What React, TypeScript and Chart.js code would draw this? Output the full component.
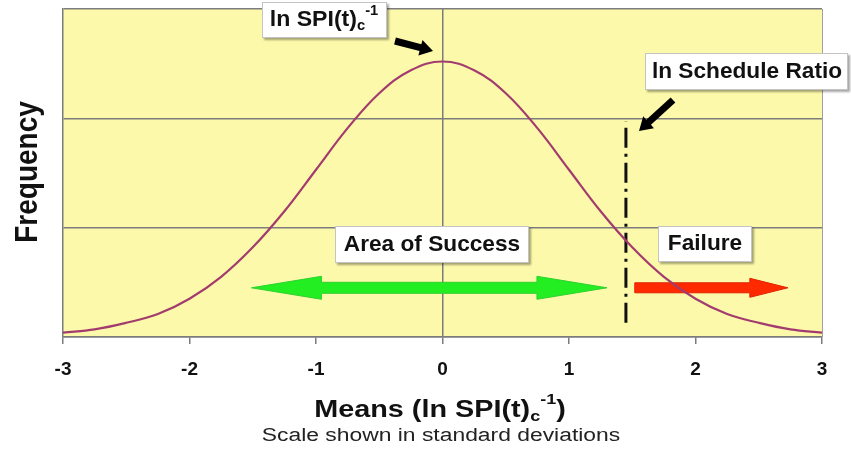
import React, { useEffect, useRef } from "react";
import { Chart, registerables } from "chart.js";

Chart.register(...registerables);

// x positions in standard deviations, and frequency
const xValues = [-3, -2.75, -2.5, -2.25, -2, -1.75, -1.5, -1.25, -1, -0.75, -0.5, -0.25, 0, 0.25, 0.5, 0.75, 1, 1.25, 1.5, 1.75, 2, 2.25, 2.5, 2.75, 3];
const frequency = [0.04, 0.07, 0.13, 0.21, 0.35, 0.55, 0.82, 1.15, 1.53, 1.91, 2.23, 2.44, 2.52, 2.44, 2.23, 1.91, 1.53, 1.15, 0.82, 0.55, 0.35, 0.21, 0.13, 0.07, 0.04];
const xTicks = [-3, -2, -1, 0, 1, 2, 3];
const scheduleRatioX = 1.45;
const scheduleRatioY = [0.13, 1.97];
const successRange = [-1.51, 1.3];
const failureRange = [1.52, 2.73];
const arrowLevel = 0.45;

const FONT = '"Liberation Sans", Arial, Helvetica, sans-serif';

type Part = { t: string; k: "n" | "sub" | "sup" };

function drawRich(ctx: CanvasRenderingContext2D, parts: Part[], cx: number, cy: number, size: number, sx: number, weight = "bold", color = "#111") {
  const segs = parts.map((p) => {
    const fs = p.k === "n" ? size : Math.round(size * 0.62);
    ctx.font = `${weight} ${fs}px ${FONT}`;
    return { ...p, fs, w: ctx.measureText(p.t).width };
  });
  const total = segs.reduce((a, s) => a + s.w * sx, 0);
  let x = cx - total / 2;
  ctx.fillStyle = color;
  ctx.textBaseline = "middle";
  ctx.textAlign = "left";
  for (const s of segs) {
    ctx.font = `${weight} ${s.fs}px ${FONT}`;
    const dy = s.k === "sub" ? size * 0.3 : s.k === "sup" ? -size * 0.42 : 0;
    ctx.save();
    ctx.translate(x, cy + dy);
    ctx.scale(sx, 1);
    ctx.fillText(s.t, 0, 0);
    ctx.restore();
    x += s.w * sx;
  }
}

function drawBox(ctx: CanvasRenderingContext2D, x1: number, y1: number, x2: number, y2: number) {
  ctx.save();
  ctx.shadowColor = "rgba(0,0,0,0.35)";
  ctx.shadowOffsetX = 1.5;
  ctx.shadowOffsetY = 1.5;
  ctx.shadowBlur = 2;
  ctx.fillStyle = "#ffffff";
  ctx.fillRect(x1, y1, x2 - x1, y2 - y1);
  ctx.restore();
  ctx.save();
  ctx.strokeStyle = "#c4c4c4";
  ctx.lineWidth = 1;
  ctx.strokeRect(x1 + 0.5, y1 + 0.5, x2 - x1 - 1, y2 - y1 - 1);
  ctx.restore();
}

function drawArrow(ctx: CanvasRenderingContext2D, x1: number, y1: number, x2: number, y2: number, shaftW: number, headW: number, headL: number, fill: string, stroke?: string) {
  const ang = Math.atan2(y2 - y1, x2 - x1);
  const len = Math.hypot(x2 - x1, y2 - y1);
  ctx.save();
  ctx.translate(x1, y1);
  ctx.rotate(ang);
  ctx.beginPath();
  ctx.moveTo(0, -shaftW / 2);
  ctx.lineTo(len - headL, -shaftW / 2);
  ctx.lineTo(len - headL, -headW / 2);
  ctx.lineTo(len, 0);
  ctx.lineTo(len - headL, headW / 2);
  ctx.lineTo(len - headL, shaftW / 2);
  ctx.lineTo(0, shaftW / 2);
  ctx.closePath();
  ctx.fillStyle = fill;
  ctx.fill();
  if (stroke) {
    ctx.strokeStyle = stroke;
    ctx.lineWidth = 1;
    ctx.stroke();
  }
  ctx.restore();
}

function drawDoubleArrow(ctx: CanvasRenderingContext2D, x1: number, x2: number, y: number, shaftW: number, headW: number, headL: number, fill: string, stroke: string) {
  ctx.save();
  ctx.beginPath();
  ctx.moveTo(x1, y);
  ctx.lineTo(x1 + headL, y - headW / 2);
  ctx.lineTo(x1 + headL, y - shaftW / 2);
  ctx.lineTo(x2 - headL, y - shaftW / 2);
  ctx.lineTo(x2 - headL, y - headW / 2);
  ctx.lineTo(x2, y);
  ctx.lineTo(x2 - headL, y + headW / 2);
  ctx.lineTo(x2 - headL, y + shaftW / 2);
  ctx.lineTo(x1 + headL, y + shaftW / 2);
  ctx.lineTo(x1 + headL, y + headW / 2);
  ctx.closePath();
  ctx.fillStyle = fill;
  ctx.fill();
  ctx.strokeStyle = stroke;
  ctx.lineWidth = 1;
  ctx.stroke();
  ctx.restore();
}

const decorPlugin = {
  id: "decor",
  beforeDraw(chart: any) {
    const { ctx, chartArea: a } = chart;
    ctx.save();
    ctx.fillStyle = "#ffffff";
    ctx.fillRect(0, 0, chart.width, chart.height);
    ctx.fillStyle = "#fdf9aa";
    ctx.fillRect(a.left, a.top, a.right - a.left, a.bottom - a.top);
    ctx.restore();
  },
  beforeDatasetsDraw(chart: any) {
    const { ctx, scales } = chart;
    const xs = scales.x;
    const ys = scales.y;
    const y = ys.getPixelForValue(arrowLevel);
    drawDoubleArrow(ctx, xs.getPixelForValue(successRange[0]), xs.getPixelForValue(successRange[1]), y, 11, 23, 70, "#22ee22", "#2fd12f");
    drawArrow(ctx, xs.getPixelForValue(failureRange[0]), y, xs.getPixelForValue(failureRange[1]), y, 10, 19, 38, "#ff2a00", "#e02200");
  },
  afterDraw(chart: any) {
    const { ctx, chartArea: a } = chart;
    // right border
    ctx.save();
    ctx.strokeStyle = "#a0a0a0";
    ctx.lineWidth = 1;
    ctx.beginPath();
    ctx.moveTo(a.right + 0.5, a.top);
    ctx.lineTo(a.right + 0.5, a.bottom);
    ctx.stroke();
    ctx.restore();

    const spi: Part[] = [
      { t: "ln SPI(t)", k: "n" },
      { t: "c", k: "sub" },
      { t: "-1", k: "sup" },
    ];

    // label boxes
    drawBox(ctx, 262, 2, 387, 38);
    drawRich(ctx, spi, 324, 20, 22, 1.05);
    drawArrow(ctx, 395, 41, 433, 51, 7, 16, 13, "#000");

    drawBox(ctx, 645, 53, 848, 90);
    drawRich(ctx, [{ t: "ln Schedule Ratio", k: "n" }], 747, 72, 22, 1.03);
    drawArrow(ctx, 673, 100, 639, 131, 7, 16, 13, "#000");

    drawBox(ctx, 335, 226, 529, 263);
    drawRich(ctx, [{ t: "Area of Success", k: "n" }], 432, 245, 22, 1.03);

    drawBox(ctx, 658, 226, 752, 262);
    drawRich(ctx, [{ t: "Failure", k: "n" }], 705, 244, 22, 1.03);

    // y-axis title
    ctx.save();
    ctx.translate(28, 172);
    ctx.rotate(-Math.PI / 2);
    ctx.scale(1, 1.15);
    ctx.font = `bold 28px ${FONT}`;
    ctx.fillStyle = "#111";
    ctx.textAlign = "center";
    ctx.textBaseline = "middle";
    ctx.fillText("Frequency", 0, 0);
    ctx.restore();

    // x-axis title and note
    drawRich(ctx, [...[{ t: "Means (", k: "n" } as Part], ...spi, { t: ")", k: "n" }], 440, 410, 24, 1.2);
    drawRich(ctx, [{ t: "Scale shown in standard deviations", k: "n" }], 441, 436, 18, 1.27, "normal", "#222");
  },
};

export default function App() {
  const ref = useRef<HTMLCanvasElement | null>(null);
  useEffect(() => {
    document.body.style.margin = "0";
    const canvas = ref.current!;
    const gridGray = "#7c7c7c";
    const chart = new Chart(canvas, {
      type: "line",
      data: {
        datasets: [
          {
            label: "Frequency",
            data: xValues.map((x, i) => ({ x, y: frequency[i] })),
            borderColor: "#a23c6e",
            borderWidth: 2.2,
            pointRadius: 0,
            tension: 0.4,
            fill: false,
          },
          {
            label: "ln Schedule Ratio",
            data: scheduleRatioY.map((y) => ({ x: scheduleRatioX, y })),
            borderColor: "#111",
            borderWidth: 3,
            borderDash: [20, 6, 3, 6],
            pointRadius: 0,
            fill: false,
          },
        ],
      },
      options: {
        animation: false,
        responsive: false,
        devicePixelRatio: 1,
        layout: { padding: { top: 9, right: 29, left: 0, bottom: 0 } },
        plugins: { legend: { display: false }, tooltip: { enabled: false } },
        scales: {
          x: {
            type: "linear",
            min: -3,
            max: 3,
            afterBuildTicks: (s: any) => {
              s.ticks = xTicks.map((v) => ({ value: v }));
            },
            afterFit: (s: any) => {
              s.height = 121;
            },
            ticks: {
              font: { family: FONT, size: 19, weight: "bold" },
              color: "#111",
              padding: 14,
              maxRotation: 0,
              callback: (v: any) => String(v),
            },
            grid: {
              color: (c: any) => (c.tick && c.tick.value === 0 ? gridGray : "rgba(0,0,0,0)"),
              lineWidth: 1.5,
              tickColor: gridGray,
              tickLength: 7,
              drawTicks: true,
            },
            border: { color: gridGray, width: 1.5 },
          },
          y: {
            type: "linear",
            min: 0,
            max: 3,
            ticks: { display: false, stepSize: 1 },
            afterFit: (s: any) => {
              s.width = 63;
            },
            grid: { color: gridGray, lineWidth: 1.5, drawTicks: false },
            border: { color: gridGray, width: 1.5 },
          },
        },
      },
      plugins: [decorPlugin],
    });
    return () => chart.destroy();
  }, []);
  return (
    <div style={{ position: "fixed", left: 0, top: 0, width: 851, height: 458, background: "#fff" }}>
      <canvas ref={ref} width={851} height={458} />
    </div>
  );
}
